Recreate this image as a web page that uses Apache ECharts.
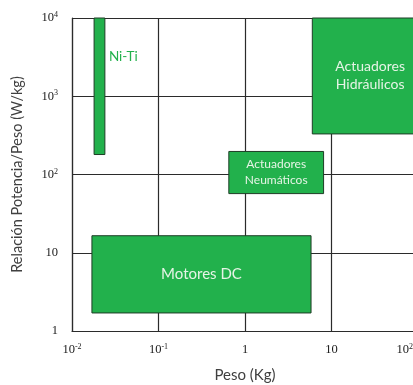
<!DOCTYPE html>
<html>
<head>
<meta charset="utf-8">
<script src="https://cdn.jsdelivr.net/npm/echarts@6/dist/echarts.min.js"></script>
<style>html,body{margin:0;padding:0;background:#fff}#c{width:413px;height:385px}</style>
</head>
<body>
<div id="c"></div>
<script>
// ---- data ----
const boxNames = ['Ni-Ti', 'Actuadores\nHidráulicos', 'Actuadores\nNeumáticos', 'Motores DC'];
const boxXMin = [0.018, 6, 0.65, 0.017];
const boxXMax = [0.024, 130, 8.1, 5.8];
const boxYMin = [180, 330, 57, 1.7];
const boxYMax = [10000, 10000, 197, 16.5];
const xTickBase = ['10', '10', '1', '10', '10'];
const xTickExp = ['-2', '-1', '', '', '2'];
const yTickBase = ['1', '10', '10', '10', '10'];
const yTickExp = ['', '', '2', '3', '4'];
const xAxisName = 'Peso (Kg)';
const yAxisName = 'Relación Potencia/Peso (W/kg)';

// ---- styles ----
const boxStyle = {
  'Ni-Ti': { fontSize: 13.5, lineHeight: 16, outside: true },
  'Actuadores\nHidráulicos': { fontSize: 14, lineHeight: 18 },
  'Actuadores\nNeumáticos': { fontSize: 12, lineHeight: 16 },
  'Motores DC': { fontSize: 15, lineHeight: 18 }
};
const green = '#22B14C';

const chart = echarts.init(document.getElementById('c'), null, { renderer: 'canvas' });
const rich = {
  b: { fontFamily: 'Liberation Serif', fontSize: 12.5, color: '#1a1a1a', lineHeight: 14 },
  s: { fontFamily: 'Liberation Serif', fontSize: 8, color: '#1a1a1a', verticalAlign: 'top', lineHeight: 14, padding: [0, 0, 6, 0] },
  p: { width: 5, lineHeight: 14 }
};
function fmt(bases, exps, minExp, padLast) {
  return function (v) {
    const i = Math.round(Math.log10(v)) - minExp;
    if (i < 0 || i >= bases.length) return '';
    let s = '{b|' + bases[i] + '}' + (exps[i] ? '{s|' + exps[i] + '}' : '');
    if (padLast && i === bases.length - 1) s += '{p| }';
    return s;
  };
}
const data = boxNames.map((n, i) => [boxXMin[i], boxXMax[i], boxYMin[i], boxYMax[i], i]);

chart.setOption({
  animation: false,
  grid: { left: 72, right: -5, top: 18, bottom: 54, outerBoundsMode: 'none', containLabel: false },
  xAxis: {
    type: 'log', logBase: 10, min: 0.01, max: 100,
    name: xAxisName, nameLocation: 'middle', nameGap: 37,
    nameTextStyle: { fontFamily: 'Lato', fontSize: 15, color: '#404040' },
    axisLine: { show: true, lineStyle: { color: '#2b2b2b', width: 1.2 } },
    axisTick: { show: false },
    axisLabel: { formatter: fmt(xTickBase, xTickExp, -2, true), rich: rich, margin: 12, alignMaxLabel: 'right' },
    splitLine: { show: true, lineStyle: { color: '#2b2b2b', width: 1.2 } },
    minorSplitLine: { show: false }
  },
  yAxis: {
    type: 'log', logBase: 10, min: 1, max: 10000,
    name: yAxisName, nameLocation: 'middle', nameGap: 47, nameRotate: 90,
    nameTextStyle: { fontFamily: 'Lato', fontSize: 14.5, color: '#404040' },
    axisLine: { show: true, lineStyle: { color: '#2b2b2b', width: 1.2 } },
    axisTick: { show: false },
    axisLabel: { formatter: fmt(yTickBase, yTickExp, 0, false), rich: rich, margin: 14 },
    splitLine: { show: true, lineStyle: { color: '#2b2b2b', width: 1.2 } }
  },
  series: [{
    type: 'custom',
    clip: false,
    encode: { x: [0, 1], y: [2, 3] },
    data: data,
    renderItem: function (params, api) {
      const p0 = api.coord([api.value(0), api.value(3)]);
      const p1 = api.coord([api.value(1), api.value(2)]);
      const name = boxNames[api.value(4)];
      const st = boxStyle[name];
      const w = p1[0] - p0[0], h = p1[1] - p0[1];
      const text = st.outside
        ? { type: 'text', x: p1[0] + 4, y: p0[1] + 39, style: { text: name, fill: green, fontFamily: 'Lato', fontSize: st.fontSize, textAlign: 'left', textVerticalAlign: 'middle' } }
        : { type: 'text', x: p0[0] + w / 2, y: p0[1] + h / 2, style: { text: name, fill: '#e6f4e6', fontFamily: 'Lato', fontSize: st.fontSize, lineHeight: st.lineHeight, textAlign: 'center', textVerticalAlign: 'middle' } };
      return {
        type: 'group',
        children: [
          { type: 'rect', shape: { x: p0[0], y: p0[1], width: w, height: h }, style: { fill: green, stroke: '#1e3d26', lineWidth: 1 } },
          text
        ]
      };
    }
  }]
});
</script>
</body>
</html>
